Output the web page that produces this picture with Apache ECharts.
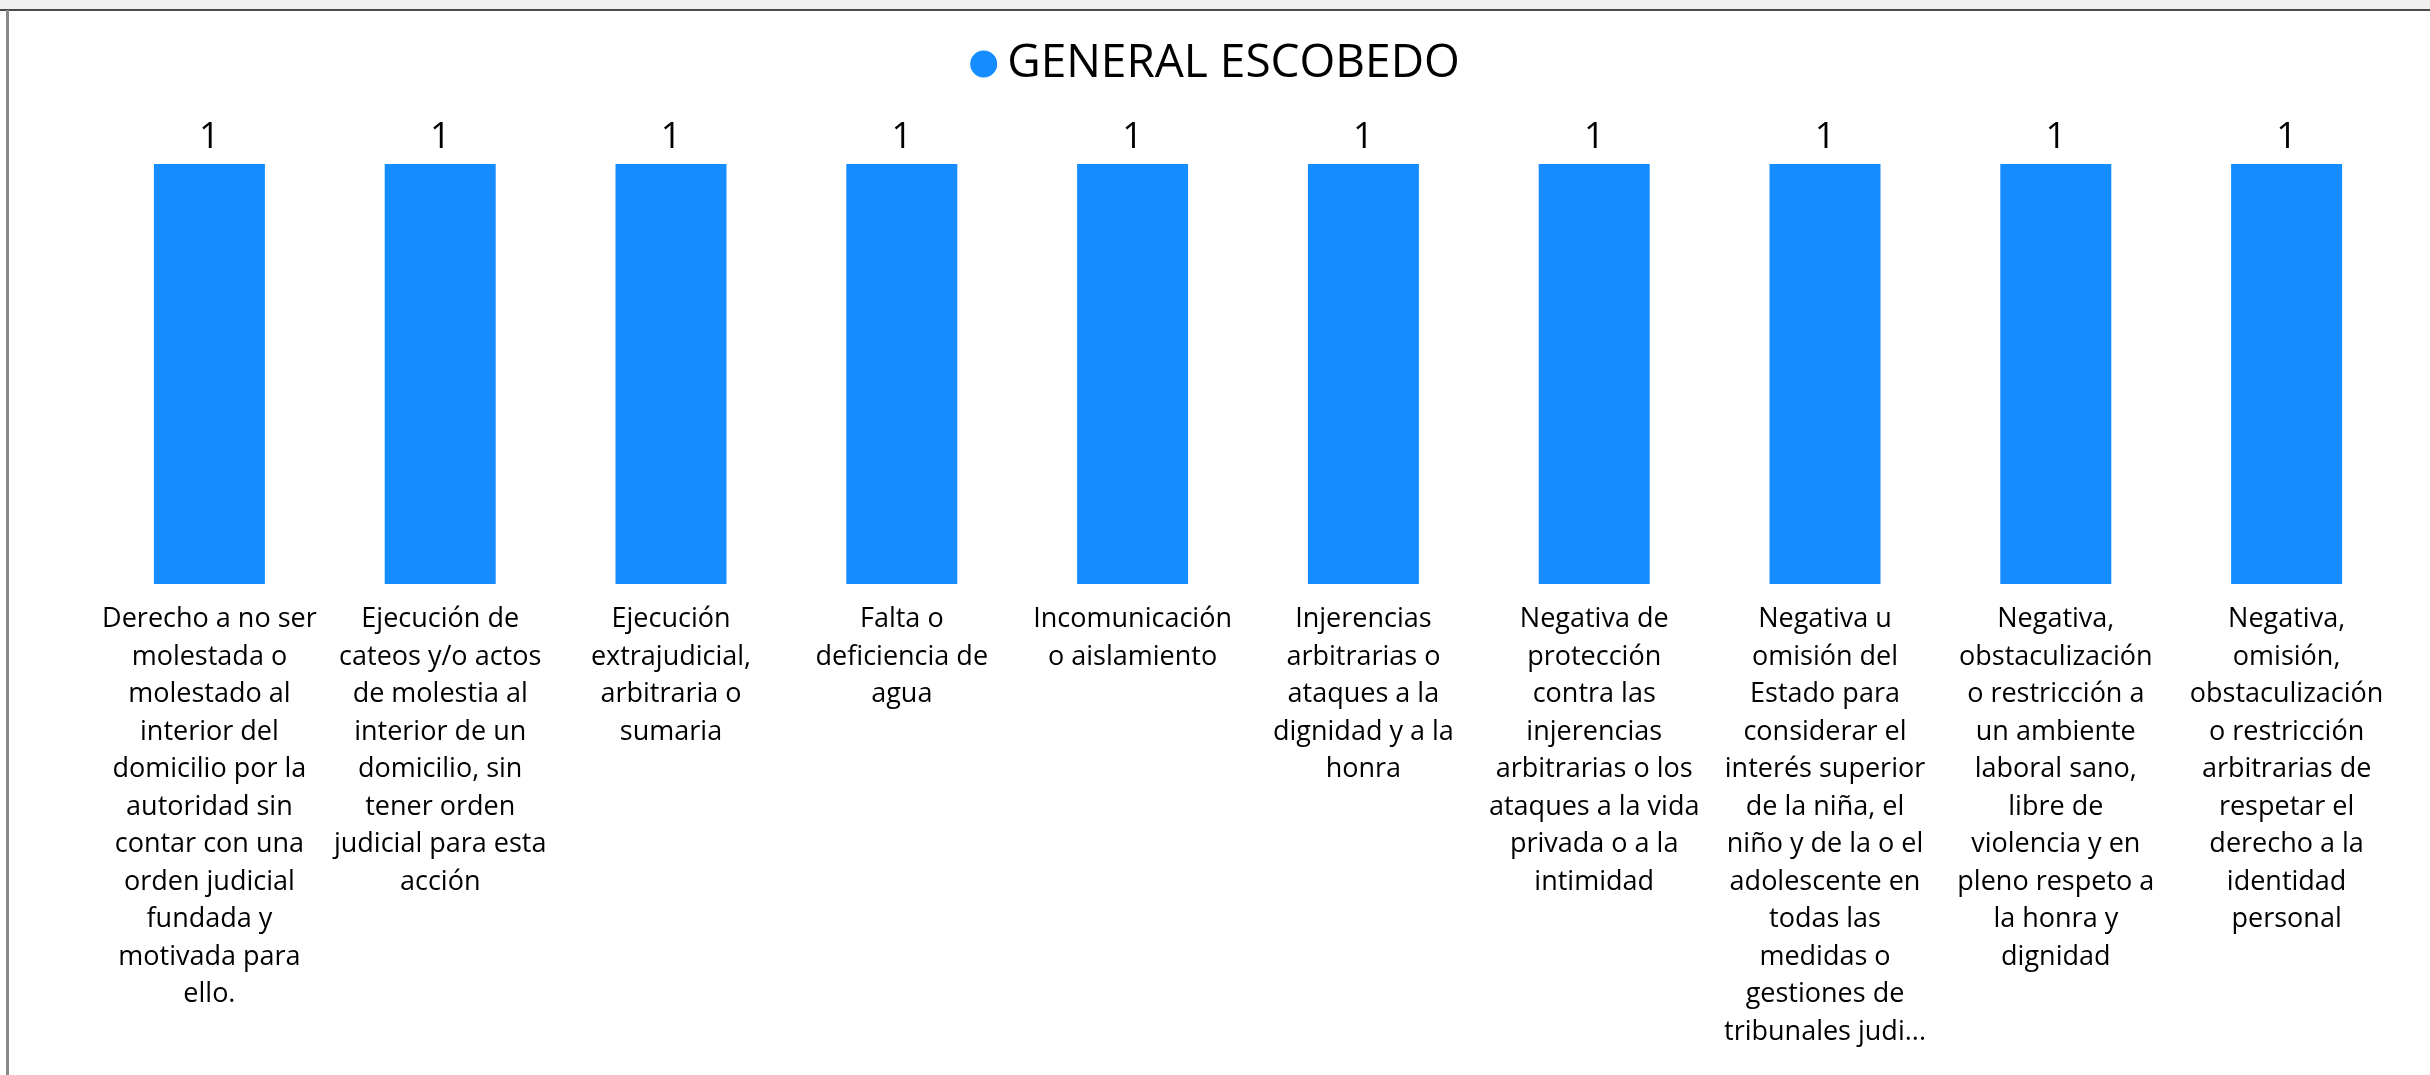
<!DOCTYPE html>
<html>
<head>
<meta charset="utf-8">
<title>GENERAL ESCOBEDO</title>
<script src="https://cdn.jsdelivr.net/npm/echarts@6/dist/echarts.min.js"></script>
<style>
  html, body {
    margin: 0;
    padding: 0;
    background: #fff;
  }
  #chart {
    width: 2430px;
    height: 1075px;
  }
</style>
</head>
<body>
<div id="chart"></div>
<script>
// serie
const seriesName = 'GENERAL ESCOBEDO'

// categorías (texto tal como aparece en el eje)
const categories = [
  'Derecho a no ser\nmolestada o\nmolestado al\ninterior del\ndomicilio por la\nautoridad sin\ncontar con una\norden judicial\nfundada y\nmotivada para\nello.',
  'Ejecución de\ncateos y/o actos\nde molestia al\ninterior de un\ndomicilio, sin\ntener orden\njudicial para esta\nacción',
  'Ejecución\nextrajudicial,\narbitraria o\nsumaria',
  'Falta o\ndeficiencia de\nagua',
  'Incomunicación\no aislamiento',
  'Injerencias\narbitrarias o\nataques a la\ndignidad y a la\nhonra',
  'Negativa de\nprotección\ncontra las\ninjerencias\narbitrarias o los\nataques a la vida\nprivada o a la\nintimidad',
  'Negativa u\nomisión del\nEstado para\nconsiderar el\ninterés superior\nde la niña, el\nniño y de la o el\nadolescente en\ntodas las\nmedidas o\ngestiones de\ntribunales judi...',
  'Negativa,\nobstaculización\no restricción a\nun ambiente\nlaboral sano,\nlibre de\nviolencia y en\npleno respeto a\nla honra y\ndignidad',
  'Negativa,\nomisión,\nobstaculización\no restricción\narbitrarias de\nrespetar el\nderecho a la\nidentidad\npersonal'
]

// valores
const values = [1, 1, 1, 1, 1, 1, 1, 1, 1, 1]

const chart = echarts.init(document.getElementById('chart'))

chart.setOption({
  animation: false,
  backgroundColor: '#fff',
  textStyle: {
    fontFamily: 'Open Sans, sans-serif'
  },
  // marco de la página
  graphic: [
    {
      type: 'rect',
      shape: { x: 0, y: 0, width: 2430, height: 9 },
      style: { fill: '#efefef' },
      silent: true
    },
    {
      type: 'line',
      shape: { x1: 0, y1: 10, x2: 2430, y2: 10 },
      style: { stroke: '#4a4a4a', lineWidth: 2 },
      silent: true
    },
    {
      type: 'line',
      shape: { x1: 7.5, y1: 10, x2: 7.5, y2: 1075 },
      style: { stroke: '#8a8a8a', lineWidth: 3 },
      silent: true
    }
  ],
  legend: {
    data: [seriesName],
    top: 36,
    left: 'center',
    icon: 'circle',
    itemWidth: 27,
    itemHeight: 27,
    textStyle: {
      fontSize: 46,
      color: '#000',
      fontFamily: 'Open Sans, sans-serif',
      padding: [0, 0, 0, 5]
    }
  },
  grid: {
    left: 94,
    right: 28,
    top: 164,
    bottom: 491
  },
  xAxis: {
    type: 'category',
    data: categories,
    axisLine: { show: false },
    axisTick: { show: false },
    axisLabel: {
      interval: 0,
      margin: 17,
      fontSize: 27,
      lineHeight: 37.5,
      color: '#000',
      fontFamily: 'Open Sans, sans-serif',
      align: 'center'
    }
  },
  yAxis: {
    type: 'value',
    min: 0,
    max: 1,
    show: false,
    splitLine: { show: false }
  },
  series: [{
    name: seriesName,
    type: 'bar',
    data: values,
    barWidth: 111,
    itemStyle: {
      color: '#158cff'
    },
    label: {
      show: true,
      position: 'top',
      distance: 8,
      fontSize: 36,
      color: '#000',
      fontFamily: 'Open Sans, sans-serif'
    }
  }]
})
</script>
</body>
</html>
